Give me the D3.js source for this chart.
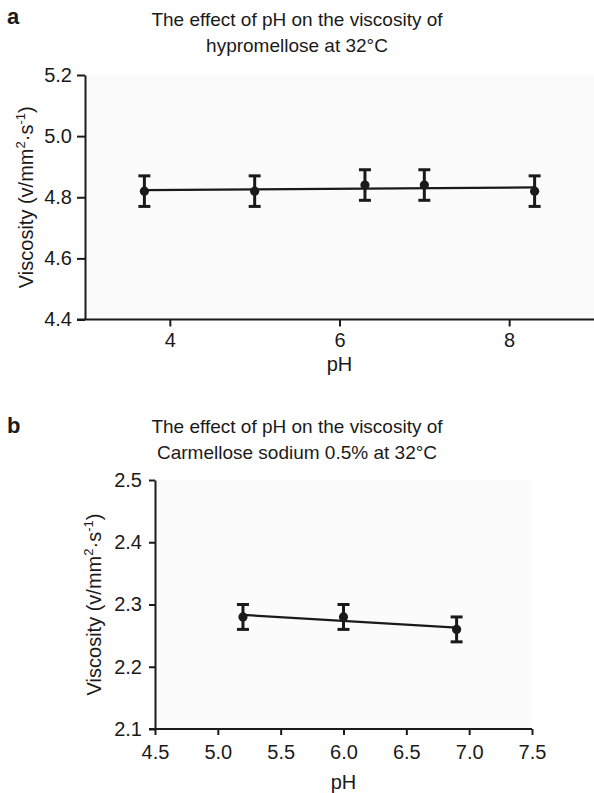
<!DOCTYPE html>
<html><head><meta charset="utf-8">
<script src="https://cdn.jsdelivr.net/npm/d3@7/dist/d3.min.js"></script>
<style>body{margin:0;background:#fff}svg{display:block}text{font-family:"Liberation Sans",Arial,sans-serif;fill:#1a1a1a}</style>
</head><body>
<script>
// ---- data ----
const phA = [3.7, 5.0, 6.3, 7.0, 8.3];
const viscA = [4.82, 4.82, 4.84, 4.84, 4.82];
const errA = [0.05, 0.05, 0.05, 0.05, 0.05];
const xTicksA = [4, 6, 8];
const yTicksA = [4.4, 4.6, 4.8, 5.0, 5.2];
const titleA = ["The effect of pH on the viscosity of", "hypromellose at 32°C"];

const phB = [5.2, 6.0, 6.9];
const viscB = [2.28, 2.28, 2.26];
const errB = [0.02, 0.02, 0.02];
const xTicksB = [4.5, 5.0, 5.5, 6.0, 6.5, 7.0, 7.5];
const yTicksB = [2.1, 2.2, 2.3, 2.4, 2.5];
const titleB = ["The effect of pH on the viscosity of", "Carmellose sodium 0.5% at 32°C"];

const W = 594, H = 793;
const svg = d3.select("body").append("svg").attr("width", W).attr("height", H);
const ink = "#1a1a1a";

function fit(xs, ys) {
  const mx = d3.mean(xs), my = d3.mean(ys);
  let sxy = 0, sxx = 0;
  xs.forEach((x, i) => { sxy += (x - mx) * (ys[i] - my); sxx += (x - mx) * (x - mx); });
  const b = sxy / sxx, a = my - b * mx;
  return x => a + b * x;
}

function panel(cfg) {
  const g = svg.append("g");
  const x = d3.scaleLinear().domain(cfg.xDomain).range(cfg.xRange);
  const y = d3.scaleLinear().domain(cfg.yDomain).range(cfg.yRange);

  g.append("rect").attr("x", cfg.xRange[0]).attr("y", cfg.yRange[1])
    .attr("width", cfg.bgRight - cfg.xRange[0]).attr("height", cfg.yRange[0] - cfg.yRange[1])
    .attr("fill", "#fbfbfb");

  // letter
  g.append("text").attr("x", 7).attr("y", cfg.letterY).attr("font-size", 22)
    .attr("font-weight", "bold").text(cfg.letter);
  // title
  cfg.title.forEach((t, i) => {
    g.append("text").attr("x", 297).attr("y", cfg.titleY + i * 26)
      .attr("text-anchor", "middle").attr("font-size", 19).text(t);
  });

  // y axis
  const ya = g.append("g").attr("transform", `translate(${cfg.xRange[0]},0)`)
    .call(d3.axisLeft(y).tickValues(cfg.yTicks).tickFormat(d3.format(".1f"))
      .tickSize(cfg.yTickSize).tickPadding(cfg.yPad).tickSizeOuter(0));
  // x axis
  const xa = g.append("g").attr("transform", `translate(0,${cfg.yRange[0]})`)
    .call(d3.axisBottom(x).tickValues(cfg.xTicks).tickFormat(cfg.xFmt)
      .tickSize(cfg.xTickSize).tickPadding(cfg.xPad).tickSizeOuter(0));
  xa.select(".domain").attr("d", `M${cfg.xRange[0] - cfg.yTickSize},0H${cfg.xRange[1]}`);
  [ya, xa].forEach(a => {
    a.selectAll(".domain,.tick line").attr("stroke", ink).attr("stroke-width", 2);
    a.selectAll("text").attr("font-size", 20).attr("fill", ink)
      .style("font-family", '"Liberation Sans", Arial, sans-serif');
  });

  // axis titles
  g.append("text").attr("x", (cfg.xRange[0] + cfg.xRange[1]) / 2 + cfg.pHdx).attr("y", cfg.pHY)
    .attr("text-anchor", "middle").attr("font-size", 20).text("pH");
  const yl = g.append("text")
    .attr("transform", `translate(${cfg.yLabelX},${(cfg.yRange[0] + cfg.yRange[1]) / 2}) rotate(-90)`)
    .attr("text-anchor", "middle").attr("font-size", 20);
  yl.append("tspan").text("Viscosity (v/mm");
  yl.append("tspan").attr("font-size", 13).attr("dy", -8).text("2");
  yl.append("tspan").attr("dy", 8).text("·s");
  yl.append("tspan").attr("font-size", 13).attr("dy", -8).text("-1");
  yl.append("tspan").attr("dy", 8).text(")");

  // fit line
  const f = fit(cfg.xs, cfg.ys);
  const x0 = d3.min(cfg.xs), x1 = d3.max(cfg.xs);
  g.append("line").attr("x1", x(x0)).attr("x2", x(x1)).attr("y1", y(f(x0))).attr("y2", y(f(x1)))
    .attr("stroke", ink).attr("stroke-width", 2.2);

  // error bars and points
  cfg.xs.forEach((v, i) => {
    const cx = x(v), m = cfg.ys[i], e = cfg.es[i];
    g.append("line").attr("x1", cx).attr("x2", cx).attr("y1", y(m + e)).attr("y2", y(m - e))
      .attr("stroke", ink).attr("stroke-width", 3);
    [m + e, m - e].forEach(c => {
      g.append("line").attr("x1", cx - 6).attr("x2", cx + 6).attr("y1", y(c)).attr("y2", y(c))
        .attr("stroke", ink).attr("stroke-width", 3);
    });
    g.append("circle").attr("cx", cx).attr("cy", y(m)).attr("r", 4.6).attr("fill", ink);
  });
}

panel({
  letter: "a", letterY: 24, title: titleA, titleY: 26,
  xs: phA, ys: viscA, es: errA,
  xDomain: [3, 9], xRange: [85, 594], yDomain: [4.4, 5.2], yRange: [319.5, 75], bgRight: 594,
  xTicks: xTicksA, yTicks: yTicksA, xFmt: d3.format("d"),
  yTickSize: 8, yPad: 5, xTickSize: 7, xPad: 6,
  pHY: 371, pHdx: 0, yLabelX: 33
});

panel({
  letter: "b", letterY: 433, title: titleB, titleY: 433,
  xs: phB, ys: viscB, es: errB,
  xDomain: [4.5, 7.5], xRange: [155, 532], yDomain: [2.1, 2.5], yRange: [729, 480], bgRight: 532,
  xTicks: xTicksB, yTicks: yTicksB, xFmt: d3.format(".1f"),
  yTickSize: 6, yPad: 7, xTickSize: 6, xPad: 10,
  pHY: 789, pHdx: 0, yLabelX: 101
});
</script>
</body></html>
